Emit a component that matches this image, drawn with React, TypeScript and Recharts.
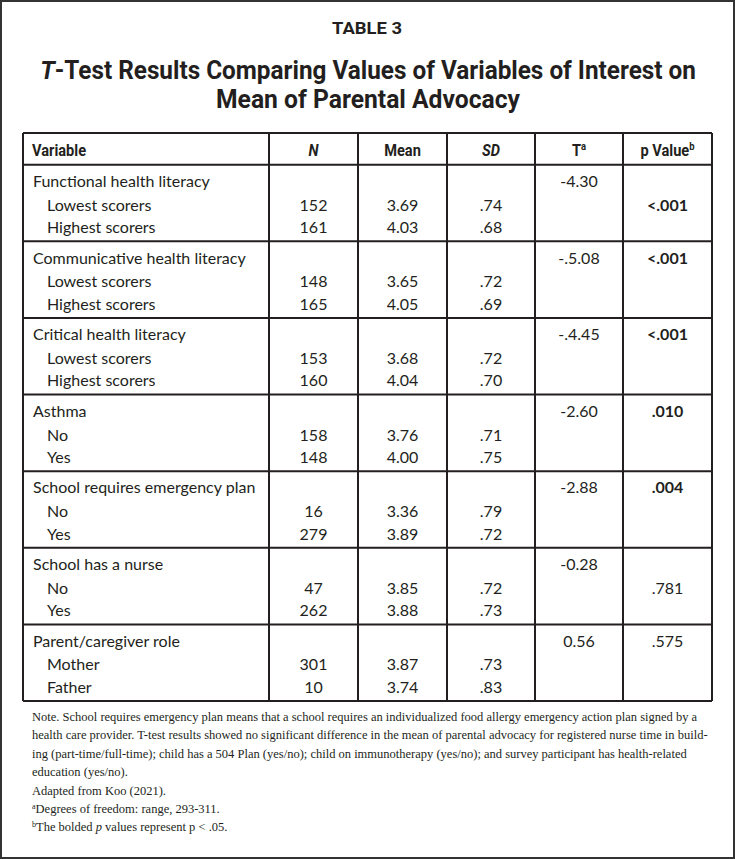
import React, { useLayoutEffect, useRef, useState } from 'react';
import { ScatterChart, Scatter, XAxis, YAxis, ReferenceLine } from 'recharts';

// table content
const headers = ['Variable', 'N', 'Mean', 'SD', 'T', 'p Value'];
const groups = [
  'Functional health literacy',
  'Communicative health literacy',
  'Critical health literacy',
  'Asthma',
  'School requires emergency plan',
  'School has a nurse',
  'Parent/caregiver role',
];
const levels = [
  ['Lowest scorers', 'Highest scorers'],
  ['Lowest scorers', 'Highest scorers'],
  ['Lowest scorers', 'Highest scorers'],
  ['No', 'Yes'],
  ['No', 'Yes'],
  ['No', 'Yes'],
  ['Mother', 'Father'],
];
const nValues = [[152, 161], [148, 165], [153, 160], [158, 148], [16, 279], [47, 262], [301, 10]];
const means = [
  ['3.69', '4.03'], ['3.65', '4.05'], ['3.68', '4.04'], ['3.76', '4.00'],
  ['3.36', '3.89'], ['3.85', '3.88'], ['3.87', '3.74'],
];
const sds = [
  ['.74', '.68'], ['.72', '.69'], ['.72', '.70'], ['.71', '.75'],
  ['.79', '.72'], ['.72', '.73'], ['.73', '.83'],
];
const tValues = ['-4.30', '-.5.08', '-.4.45', '-2.60', '-2.88', '-0.28', '0.56'];
const pValues = ['<.001', '<.001', '<.001', '.010', '.004', '.781', '.575'];
const pBold = [true, true, true, true, true, false, false];
const pLine = [1, 0, 0, 0, 0, 1, 0];

const notes = [
  'School requires emergency plan means that a school requires an individualized food allergy emergency action plan signed by a',
  'health care provider. T-test results showed no significant difference in the mean of parental advocacy for registered nurse time in build-',
  'ing (part-time/full-time); child has a 504 Plan (yes/no); child on immunotherapy (yes/no); and survey participant has health-related',
  'education (yes/no).',
];

// layout
const INK = '#231f20';
const TABLE_W = 689;
const COL_EDGES = [0, 246, 335, 424, 512, 600, 689];
const HEADER_H = 0.414; // in group units
const LINE_BASE = [0.291, 0.6, 0.892];
const HEADER_BASE = -0.109;
const BODY_FONT = "Lato, 'Noto Sans', sans-serif";
const COND_FONT = "Roboto, 'Noto Sans', sans-serif";
const COND_SCALE = 0.86;
const SERIF_FONT = "'Liberation Serif', 'DejaVu Serif', serif";

const colCenter = (i: number) => (COL_EDGES[i] + COL_EDGES[i + 1]) / 2;

type Cell = {
  x: number;
  y: number;
  text: string;
  anchor: 'start' | 'middle';
  kind: 'head' | 'body';
  bold?: boolean;
  italic?: boolean;
  sup?: string;
};

const cells: Cell[] = [];
headers.forEach((h, i) => {
  cells.push({
    x: i === 0 ? 9 : colCenter(i),
    y: HEADER_BASE,
    text: h,
    anchor: i === 0 ? 'start' : 'middle',
    kind: 'head',
    italic: h === 'N' || h === 'SD',
    sup: h === 'T' ? 'a' : h === 'p Value' ? 'b' : undefined,
  });
});
groups.forEach((g, gi) => {
  cells.push({ x: 10, y: gi + LINE_BASE[0], text: g, anchor: 'start', kind: 'body' });
  levels[gi].forEach((lv, li) => {
    const y = gi + LINE_BASE[li + 1];
    cells.push({ x: 24, y, text: lv, anchor: 'start', kind: 'body' });
    cells.push({ x: colCenter(1), y, text: String(nValues[gi][li]), anchor: 'middle', kind: 'body' });
    cells.push({ x: colCenter(2), y, text: means[gi][li], anchor: 'middle', kind: 'body' });
    cells.push({ x: colCenter(3), y, text: sds[gi][li], anchor: 'middle', kind: 'body' });
  });
  cells.push({ x: colCenter(4), y: gi + LINE_BASE[0], text: tValues[gi], anchor: 'middle', kind: 'body' });
  cells.push({
    x: colCenter(5),
    y: gi + LINE_BASE[pLine[gi]],
    text: pValues[gi],
    anchor: 'middle',
    kind: 'body',
    bold: pBold[gi],
  });
});

const CellText = (props: any) => {
  const c: Cell = props.payload;
  if (c.kind === 'head') {
    // condensed bold header, squeezed horizontally
    return (
      <g transform={`translate(${props.cx},${props.cy}) scale(${COND_SCALE},1)`}>
        <text
          x={0}
          y={0}
          textAnchor={c.anchor}
          fill={INK}
          fontFamily={COND_FONT}
          fontSize={17}
          fontWeight={700}
          fontStyle={c.italic ? 'italic' : 'normal'}
        >
          {c.text}
          {c.sup && (
            <tspan fontSize={11} dy={-6}>
              {c.sup}
            </tspan>
          )}
        </text>
      </g>
    );
  }
  return (
    <text
      x={props.cx}
      y={props.cy}
      textAnchor={c.anchor}
      fill={INK}
      fontFamily={BODY_FONT}
      fontSize={16}
      fontWeight={c.bold ? 700 : 400}
    >
      {c.text}
    </text>
  );
};

// title text squeezed to a given width (condensed look)
const FitText = ({ x, y, width, size, children }: any) => {
  const ref = useRef<SVGTextElement>(null);
  const [sx, setSx] = useState(0.8);
  useLayoutEffect(() => {
    if (ref.current) {
      const w = ref.current.getComputedTextLength();
      if (w > 0) setSx(width / w);
    }
  }, [width]);
  return (
    <g transform={`translate(${x},${y}) scale(${sx},1)`}>
      <text
        ref={ref}
        x={0}
        y={0}
        textAnchor="middle"
        fill={INK}
        fontFamily={COND_FONT}
        fontWeight={700}
        fontSize={size}
      >
        {children}
      </text>
    </g>
  );
};

const yEdges = [-HEADER_H, ...groups.map((_, i) => i), groups.length];

const supStyle: React.CSSProperties = { fontSize: 8, position: 'relative', top: -4, lineHeight: 0 };

const App = () => {
  return (
    <div
      style={{
        position: 'relative',
        width: 735,
        height: 859,
        boxSizing: 'border-box',
        border: '2px solid #333',
        background: '#fff',
        color: INK,
      }}
    >
      <style>{'body{margin:0}'}</style>
      <svg width={731} height={120} style={{ position: 'absolute', left: 0, top: 0 }}>
        <FitText x={365} y={32} width={70} size={17}>
          TABLE 3
        </FitText>
        <FitText x={366} y={77} width={656} size={26}>
          <tspan fontStyle="italic">T</tspan>-Test Results Comparing Values of Variables of Interest on
        </FitText>
        <FitText x={366} y={106} width={304} size={26}>
          Mean of Parental Advocacy
        </FitText>
      </svg>

      <div style={{ position: 'absolute', left: 18, top: 128 }}>
        <ScatterChart
          width={TABLE_W + 6}
          height={574}
          margin={{ top: 3, right: 3, bottom: 3, left: 3 }}
        >
          <XAxis dataKey="x" type="number" domain={[0, TABLE_W]} allowDataOverflow hide />
          <YAxis
            dataKey="y"
            type="number"
            domain={[-HEADER_H, groups.length]}
            allowDataOverflow
            reversed
            hide
          />
          {yEdges.map((v) => (
            <ReferenceLine key={'y' + v} y={v} stroke={INK} strokeWidth={2} />
          ))}
          {COL_EDGES.map((v) => (
            <ReferenceLine key={'x' + v} x={v} stroke={INK} strokeWidth={2} />
          ))}
          <Scatter data={cells} isAnimationActive={false} shape={(p: any) => <CellText {...p} />} />
        </ScatterChart>
      </div>

      <div
        style={{
          position: 'absolute', left: 30, top: 706, fontFamily: SERIF_FONT,
          fontSize: 12.5, lineHeight: '18.4px', whiteSpace: 'nowrap',
        }}
      >
        {notes.map((n, i) => (
          <div key={i}>{i === 0 ? 'Note. ' + n : n}</div>
        ))}
        <div>Adapted from Koo (2021).</div>
        <div><span style={supStyle}>a</span>Degrees of freedom: range, 293-311.</div>
        <div>
          <span style={supStyle}>b</span>The bolded <i>p</i> values represent p &lt; .05.
        </div>
      </div>
    </div>
  );
};

export default App;
